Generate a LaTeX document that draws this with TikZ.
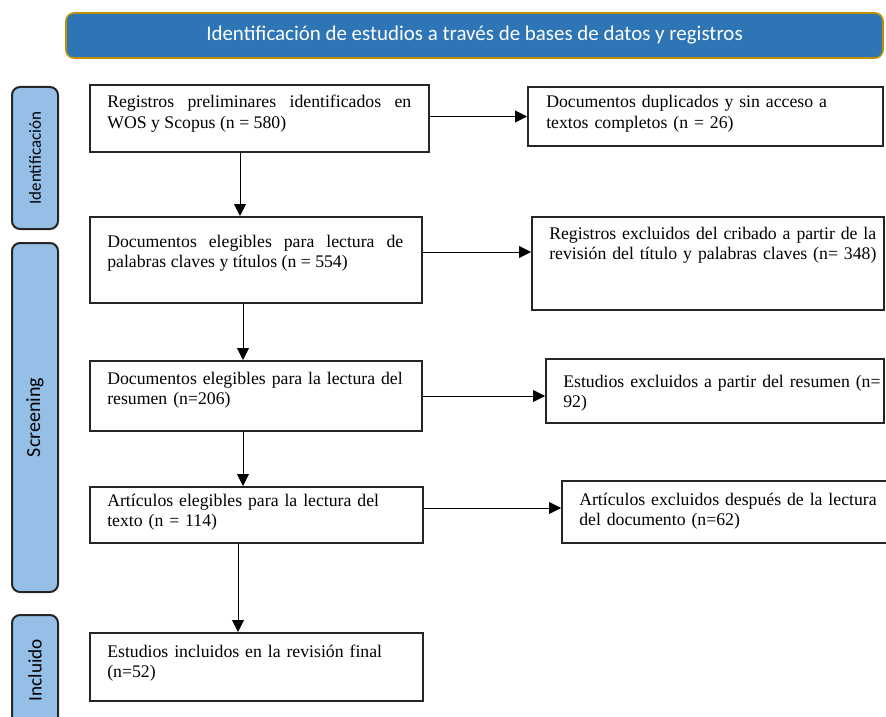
\documentclass[tikz,border=0pt]{standalone}
\usepackage{fontspec}
\setmainfont{Liberation Serif}
\newfontfamily\calibri{Carlito}
\usetikzlibrary{arrows.meta,fit}

\definecolor{titleblue}{HTML}{2E75B6}
\definecolor{titlegold}{HTML}{BF9000}
\definecolor{sideblue}{HTML}{95BFE6}

\begin{document}
\begin{tikzpicture}[x=0.75pt,y=-0.75pt,
    box/.style={draw=black!85,line width=1.5pt,inner sep=0pt},
    txt/.style={inner sep=0pt,anchor=base west,text width=250pt,align=left,
        font=\fontsize{13.3}{15.5}\selectfont},
    side/.style={draw=black!85,line width=1.5pt,fill=sideblue,rounded corners=6pt,
        rotate=90,inner sep=0pt,minimum height=34.5pt},
    arr/.style={-{Triangle[length=9pt,width=9pt]},line width=0.75pt}]
    \useasboundingbox (0,0) rectangle (886,717);

    % cabecera
    \node (title) at (474.5,35.5) [draw=titlegold,line width=1.2pt,fill=titleblue,
        rounded corners=6pt,minimum width=612.75pt,minimum height=33.75pt,
        text=white,font=\calibri\fontsize{15.7}{18}\selectfont]
        {Identificación de estudios a través de bases de datos y registros};

    % fases
    \node (ident) at (35,158) [side,minimum width=106.5pt,font=\calibri\fontsize{12.7}{15}\selectfont] {Identificación};
    \node (scree) at (35,417.5) [side,minimum width=261.75pt,font=\calibri\fontsize{15}{18}\selectfont] {Screening};
    \node (inclu) at (35,670) [side,minimum width=82.5pt,font=\calibri\fontsize{14.4}{17}\selectfont] {Incluido};

    % columna izquierda
    \node (b1) [box,fit={(90,85) (429,152)}] {};
    \node[txt,text width=228pt,align=justify] at (107,108)
        {Registros preliminares identificados en\linebreak WOS y Scopus (n = 580)};
    \node (b2) [box,fit={(90,217) (422,303)}] {};
    \node[txt,text width=222pt,align=justify] at (107,247)
        {Documentos elegibles para lectura de\linebreak palabras claves y títulos (n = 554)};
    \node (b3) [box,fit={(90,361) (422,431)}] {};
    \node[txt] at (107,384) {Documentos elegibles para la lectura del\\ resumen (n=206)};
    \node (b4) [box,fit={(90,487) (423,543)}] {};
    \node[txt] at (107,506) {Artículos elegibles para la lectura del\\ texto (n = 114)};
    \node (b5) [box,fit={(90,633) (423,701)}] {};
    \node[txt] at (107,657) {Estudios incluidos en la revisión final\\ (n=52)};

    % columna derecha
    \node (r1) [box,fit={(528,87) (883,146)}] {};
    \node[txt] at (546,108) {Documentos duplicados y sin acceso a\\ textos completos (n = 26)};
    \node (r2) [box,fit={(532,217) (884,310)}] {};
    \node[txt] at (549,239) {Registros excluidos del cribado a partir de la\\ revisión del título y palabras claves (n= 348)};
    \node (r3) [box,fit={(546,359) (884,423)}] {};
    \node[txt] at (563,387) {Estudios excluidos a partir del resumen (n=\\ 92)};
    \node (r4) [box,fit={(562,481) (890,543)}] {};
    \node[txt] at (579,505) {Artículos excluidos después de la lectura\\ del documento (n=62)};

    % flechas
    \coordinate (v1) at (240,0);
    \coordinate (v2) at (243,0);
    \coordinate (v4) at (238,0);
    \draw[arr] (b1.south -| v1) -- (b2.north -| v1);
    \draw[arr] (b2.south -| v2) -- (b3.north -| v2);
    \draw[arr] (b3.south -| v2) -- (b4.north -| v2);
    \draw[arr] (b4.south -| v4) -- (b5.north -| v4);

    \draw[arr] (r1.west -| b1.east) -- (r1.west);
    \draw[arr] ([yshift=6pt]b2.east) -- ([yshift=6pt]b2.east -| r2.west);
    \draw[arr] (b3.east) -- (b3.east -| r3.west);
    \draw[arr] ([yshift=3pt]r4.west -| b4.east) -- ([yshift=3pt]r4.west);
\end{tikzpicture}
\end{document}
